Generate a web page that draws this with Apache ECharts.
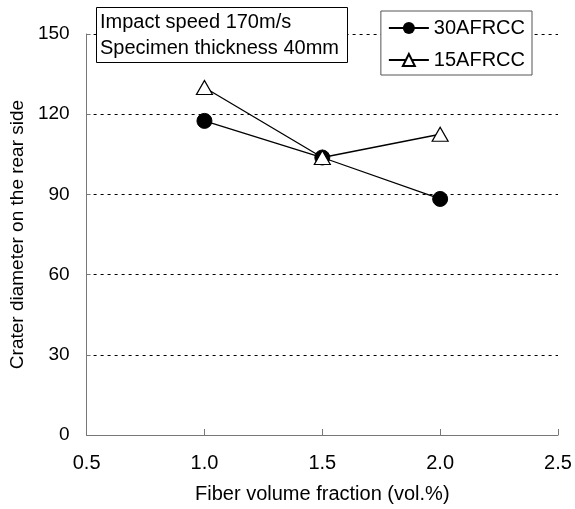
<!DOCTYPE html>
<html>
<head>
<meta charset="utf-8">
<script src="https://cdn.jsdelivr.net/npm/echarts@6/dist/echarts.min.js"></script>
<style>
  html, body { margin: 0; padding: 0; background: #fff; }
  #chart { width: 575px; height: 509px; }
</style>
</head>
<body>
<div id="chart"></div>
<script>
// fiber volume fraction (vol.%)
var fractions = [1.0, 1.5, 2.0];
var afrcc30 = [117.5, 103.8, 88.3];
var afrcc15 = [130.0, 103.8, 112.5];
var yTicks = [0, 30, 60, 90, 120, 150];

var chart = echarts.init(document.getElementById("chart"));
var font = "Liberation Sans, Arial, sans-serif";

var option = {
  animation: false,
  title: {
    text: "Impact speed 170m/s\nSpecimen thickness 40mm",
    left: 96,
    top: 7,
    padding: [2, 9, 2, 4],
    borderColor: "#000",
    borderWidth: 1,
    backgroundColor: "#fff",
    textStyle: {
      fontFamily: font,
      fontSize: 20,
      fontWeight: "normal",
      color: "#000",
      lineHeight: 26,
    },
  },
  legend: {
    right: 43,
    top: 11,
    orient: "vertical",
    itemWidth: 40,
    itemHeight: 15,
    itemGap: 12,
    padding: [7, 7, 5, 7],
    borderColor: "#555",
    borderWidth: 1,
    backgroundColor: "#fff",
    textStyle: { fontFamily: font, fontSize: 20, color: "#000" },
    data: ["30AFRCC", "15AFRCC"],
  },
  grid: { left: 86, right: 17, top: 34, bottom: 74 },
  xAxis: {
    type: "value",
    min: 0.5,
    max: 2.5,
    interval: 0.5,
    name: "Fiber volume fraction (vol.%)",
    nameLocation: "middle",
    nameGap: 49,
    nameTextStyle: { fontFamily: font, fontSize: 20, color: "#000" },
    axisLine: { lineStyle: { color: "#777", width: 1 } },
    axisTick: { inside: true, length: 6, lineStyle: { color: "#777" } },
    axisLabel: {
      fontFamily: font,
      fontSize: 20,
      color: "#000",
      margin: 18,
      formatter: function (v) { return v.toFixed(1); },
    },
    splitLine: { show: false },
  },
  yAxis: {
    type: "value",
    min: yTicks[0],
    max: yTicks[yTicks.length - 1],
    interval: 30,
    name: "Crater diameter on the rear side",
    nameLocation: "middle",
    nameGap: 55,
    nameTextStyle: { fontFamily: font, fontSize: 19, color: "#000" },
    axisLine: { show: true, lineStyle: { color: "#777", width: 1 } },
    axisTick: { show: true, inside: true, length: 4, lineStyle: { color: "#777" } },
    axisLabel: { fontFamily: font, fontSize: 19, color: "#000", margin: 17 },
    splitLine: {
      show: true,
      lineStyle: { color: "#000", type: [3, 4], width: 1 },
    },
  },
  series: [
    {
      name: "30AFRCC",
      type: "line",
      data: fractions.map(function (x, i) { return [x, afrcc30[i]]; }),
      symbol: "circle",
      symbolSize: 15,
      itemStyle: { color: "#000", borderColor: "#000" },
      lineStyle: { color: "#000", width: 1.3 },
      z: 3,
    },
    {
      name: "15AFRCC",
      type: "line",
      data: fractions.map(function (x, i) { return [x, afrcc15[i]]; }),
      symbol: "triangle",
      symbolSize: [16, 14],
      itemStyle: { color: "#fff", borderColor: "#000", borderWidth: 1.2 },
      lineStyle: { color: "#000", width: 1.3 },
      z: 4,
    },
  ],
};

chart.setOption(option);
</script>
</body>
</html>
